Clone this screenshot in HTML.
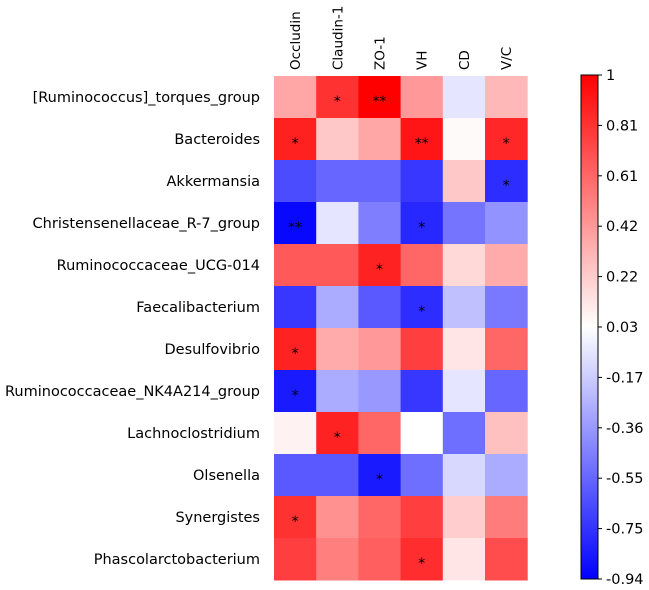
<!DOCTYPE html>
<html><head><meta charset="utf-8"><style>
body{margin:0;background:#fff;}
text{font-family:"DejaVu Sans",sans-serif;fill:#000;}
</style></head><body>
<svg id="chart" width="649" height="585" xmlns="http://www.w3.org/2000/svg">
<defs><linearGradient id="cbg" x1="0" y1="1" x2="0" y2="0">
<stop offset="0" stop-color="#0000ff"/><stop offset="0.5" stop-color="#ffffff"/><stop offset="1" stop-color="#ff0000"/></linearGradient></defs>
<g id="cells"></g><g id="rowlabels"></g><g id="collabels"></g><g id="cbar"></g>
</svg>
<script>
const rows=["[Ruminococcus]_torques_group","Bacteroides","Akkermansia","Christensenellaceae_R-7_group","Ruminococcaceae_UCG-014","Faecalibacterium","Desulfovibrio","Ruminococcaceae_NK4A214_group","Lachnoclostridium","Olsenella","Synergistes","Phascolarctobacterium"];
const cols=["Occludin","Claudin-1","ZO-1","VH","CD","V/C"];
const values=[
[0.37,0.81,1.0,0.42,-0.07,0.30],
[0.88,0.24,0.37,0.92,0.05,0.85],
[-0.65,-0.55,-0.55,-0.73,0.24,-0.77],
[-0.91,-0.07,-0.46,-0.79,-0.50,-0.38],
[0.66,0.66,0.87,0.61,0.18,0.35],
[-0.73,-0.29,-0.60,-0.77,-0.21,-0.48],
[0.87,0.35,0.42,0.76,0.13,0.61],
[-0.84,-0.29,-0.36,-0.73,-0.07,-0.55],
[0.08,0.87,0.61,0.03,-0.52,0.27],
[-0.60,-0.60,-0.84,-0.52,-0.12,-0.29],
[0.81,0.45,0.61,0.76,0.22,0.53],
[0.76,0.52,0.64,0.83,0.13,0.71]];
const stars=[
["","*","**","","",""],["*","","","**","","*"],["","","","","","*"],["**","","","*","",""],
["","","*","","",""],["","","","*","",""],["*","","","","",""],["*","","","","",""],
["","*","","","",""],["","","*","","",""],["*","","","","",""],["","","","*","",""]];
const cbTicks=["1","0.81","0.61","0.42","0.22","0.03","-0.17","-0.36","-0.55","-0.75","-0.94"];
const vmin=-0.94,vmax=1;
const X0=274,CW=42.2,Y0=76,RH=42;
const xs=i=>X0+i*CW, ys=j=>Y0+j*RH;
function color(r){const mid=(vmin+vmax)/2;let s;
 if(r>=mid){s=Math.min(1,(r-mid)/(vmax-mid));const c=Math.round(255*(1-s));return `rgb(255,${c},${c})`;}
 s=Math.min(1,(mid-r)/(mid-vmin));const c=Math.round(255*(1-s));return `rgb(${c},${c},255)`;}
const NS="http://www.w3.org/2000/svg";
function mk(t,a,p){const e=document.createElementNS(NS,t);for(const k in a)e.setAttribute(k,a[k]);p.appendChild(e);return e;}
const cells=document.getElementById('cells');
values.forEach((row,j)=>row.forEach((v,i)=>{
 const r=mk('rect',{x:xs(i),y:ys(j),width:CW+0.5,height:RH+0.5,fill:color(v)},cells);
 
 
 if(stars[j][i]){const t=mk('text',{x:xs(i)+CW/2,y:ys(j)+RH/2+9,'text-anchor':'middle','font-size':'14'},cells);t.textContent=stars[j][i];
 
 }
}));
const rl=document.getElementById('rowlabels');
rows.forEach((n,j)=>{const t=mk('text',{x:260,y:ys(j)+RH/2+5,'text-anchor':'end','font-size':'14.5'},rl);t.textContent=n;
 
 });
const cl=document.getElementById('collabels');
cols.forEach((n,i)=>{const cx=xs(i)+CW/2+5;const t=mk('text',{x:0,y:0,'text-anchor':'start','font-size':'13.5',transform:`translate(${cx},70) rotate(-90)`},cl);t.textContent=n;
 
 });
const cb=document.getElementById('cbar');
const CBX=581,CBT=75,CBB=579,CBW=17;
const bar=mk('rect',{x:CBX,y:CBT,width:CBW,height:CBB-CBT,fill:'url(#cbg)',stroke:'#000','stroke-width':1},cb);


cbTicks.forEach((l,k)=>{const y=CBT+k*(CBB-CBT)/(cbTicks.length-1);
 mk('line',{x1:CBX+CBW,x2:CBX+CBW+4,y1:y,y2:y,stroke:'#000'},cb);
 const t=mk('text',{x:CBX+CBW+8,y:y+5,'font-size':'14.5'},cb);t.textContent=l;
 
 });
</script>
</body></html>
